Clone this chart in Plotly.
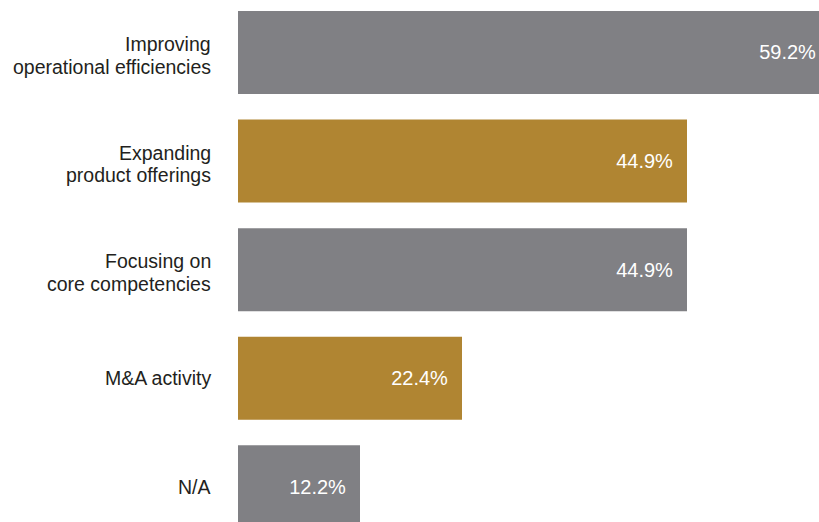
import plotly.graph_objects as go

# Survey responses: share of respondents by focus area
categories = [
    "Improving<br>operational efficiencies",
    "Expanding<br>product offerings",
    "Focusing on<br>core competencies",
    "M&A activity",
    "N/A",
]
values = [59.2, 44.9, 44.9, 22.4, 12.2]

GRAY = "#808084"
GOLD = "#B08532"
bar_colors = [GRAY, GOLD, GRAY, GOLD, GRAY]

FONT = "Liberation Sans, Arial, Helvetica, sans-serif"
LABEL_COLOR = "#231f20"

pad = "\u00a0\u00a0"
labels = [f"{v:.1f}%{pad}" for v in values]

fig = go.Figure(
    go.Bar(
        x=values,
        y=categories,
        orientation="h",
        marker=dict(color=bar_colors, line=dict(width=0)),
        width=0.765,
        text=labels,
        textposition="inside",
        insidetextanchor="end",
        textangle=0,
        textfont=dict(family=FONT, size=20, color="#ffffff"),
        cliponaxis=True,
        hoverinfo="skip",
    )
)

# Category labels drawn line by line so the line spacing stays tight
LINE_GAP = 22.5
annotations = []
for cat in categories:
    lines = cat.split("<br>")
    n = len(lines)
    for i, line in enumerate(lines):
        shift = ((n - 1) / 2 - i) * LINE_GAP - (3 if n > 1 else 0)
        annotations.append(
            dict(
                x=0,
                xref="paper",
                y=cat,
                yref="y",
                text=line,
                showarrow=False,
                xanchor="right",
                yanchor="middle",
                xshift=-25,
                yshift=shift,
                font=dict(family=FONT, size=19.5, color=LABEL_COLOR),
            )
        )

fig.update_layout(
    width=819,
    height=522,
    margin=dict(l=238, r=0, t=0, b=0),
    paper_bgcolor="#ffffff",
    plot_bgcolor="#ffffff",
    showlegend=False,
    font=dict(family=FONT, size=19.5, color=LABEL_COLOR),
    annotations=annotations,
    xaxis=dict(
        range=[0, 58.1],
        visible=False,
        showgrid=False,
        zeroline=False,
    ),
    yaxis=dict(
        range=[4.323, -0.483],
        showgrid=False,
        zeroline=False,
        showline=False,
        ticks="",
        showticklabels=False,
    ),
)

fig.write_html("out.html")
